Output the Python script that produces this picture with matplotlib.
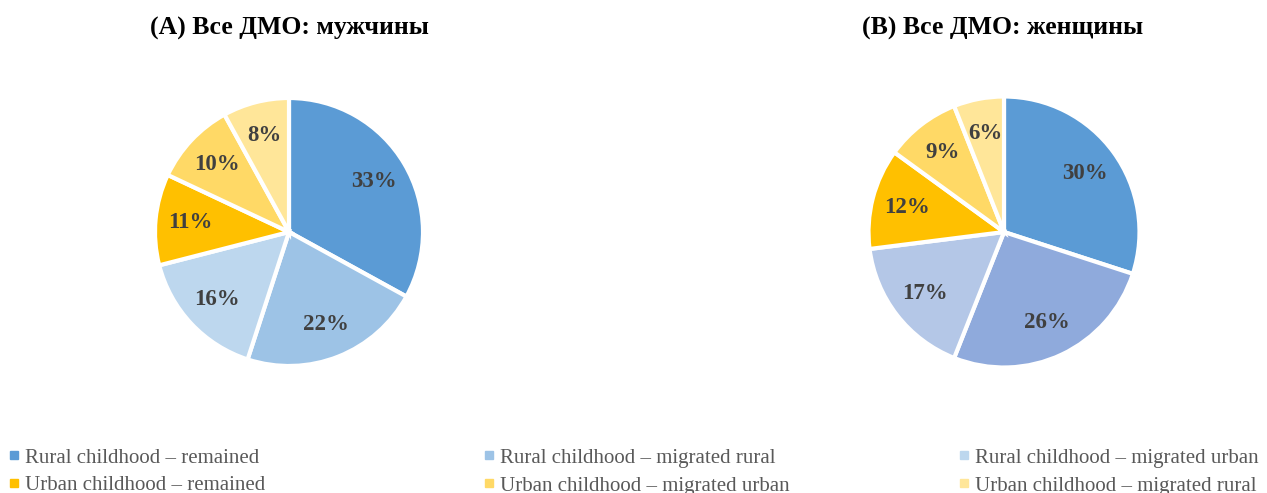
import matplotlib
matplotlib.use("Agg")
import matplotlib.pyplot as plt
from matplotlib.lines import Line2D

plt.rcParams['font.family'] = ['Liberation Serif', 'DejaVu Serif']

categories = ["Rural childhood – remained", "Rural childhood – migrated rural",
              "Rural childhood – migrated urban", "Urban childhood – remained",
              "Urban childhood – migrated urban", "Urban childhood – migrated rural"]
men = [33, 22, 16, 11, 10, 8]
women = [30, 26, 17, 12, 9, 6]
titles = ["(A) Все ДМО: мужчины", "(B) Все ДМО: женщины"]

colors_men = ["#5B9BD5", "#9DC3E6", "#BDD7EE", "#FFC000", "#FFD966", "#FFE699"]
colors_women = ["#5B9BD5", "#8FAADC", "#B4C7E7", "#FFC000", "#FFD966", "#FFE699"]

W, H = 1267, 493
fig = plt.figure(figsize=(W / 100, H / 100), dpi=100)

M = 1.03

def pie_axes(cx, cy, r):
    rr = r * M
    return fig.add_axes([(cx - rr) / W, (H - cy - rr) / H, 2 * rr / W, 2 * rr / H])

for (cx, cy, r), vals, cols, title, tx in [
        ((289, 232, 134), men, colors_men, titles[0], 289),
        ((1004, 232, 135.5), women, colors_women, titles[1], 1003)]:
    ax = pie_axes(cx, cy, r)
    wedges, texts = ax.pie(vals, colors=cols, startangle=90, counterclock=False,
                           labels=[f"{v}%" for v in vals], labeldistance=0.74,
                           radius=1.0,
                           wedgeprops=dict(edgecolor="white", linewidth=3),
                           textprops=dict(color="#404040", fontsize=16.5, fontweight="bold"))
    for t in texts:
        t.set_ha("center")
        t.set_va("center")
    ax.set_xlim(-M, M)
    ax.set_ylim(-M, M)
    ax.axis("off")
    fig.text(tx / W, 1 - 28 / H, title, ha="center", va="center",
             fontsize=18.5, fontweight="bold", color="black")

# legend: three columns, two rows
legend_cols = [(0, 3, 9), (1, 4, 484), (2, 5, 959)]
for i1, i2, x in legend_cols:
    handles = [Line2D([0], [0], marker='s', linestyle='none', markersize=5.5,
                      markerfacecolor=colors_men[i], markeredgecolor=colors_men[i])
               for i in (i1, i2)]
    leg = fig.legend(handles, [categories[i1], categories[i2]],
                     loc="upper left", bbox_to_anchor=(x / W, 1 - 448 / H),
                     frameon=False, fontsize=15, handlelength=0.5,
                     handletextpad=0.25, labelspacing=0.4, borderpad=0,
                     borderaxespad=0)
    for t in leg.get_texts():
        t.set_color("#595959")

fig.savefig("out.png", dpi=100, facecolor="white")
